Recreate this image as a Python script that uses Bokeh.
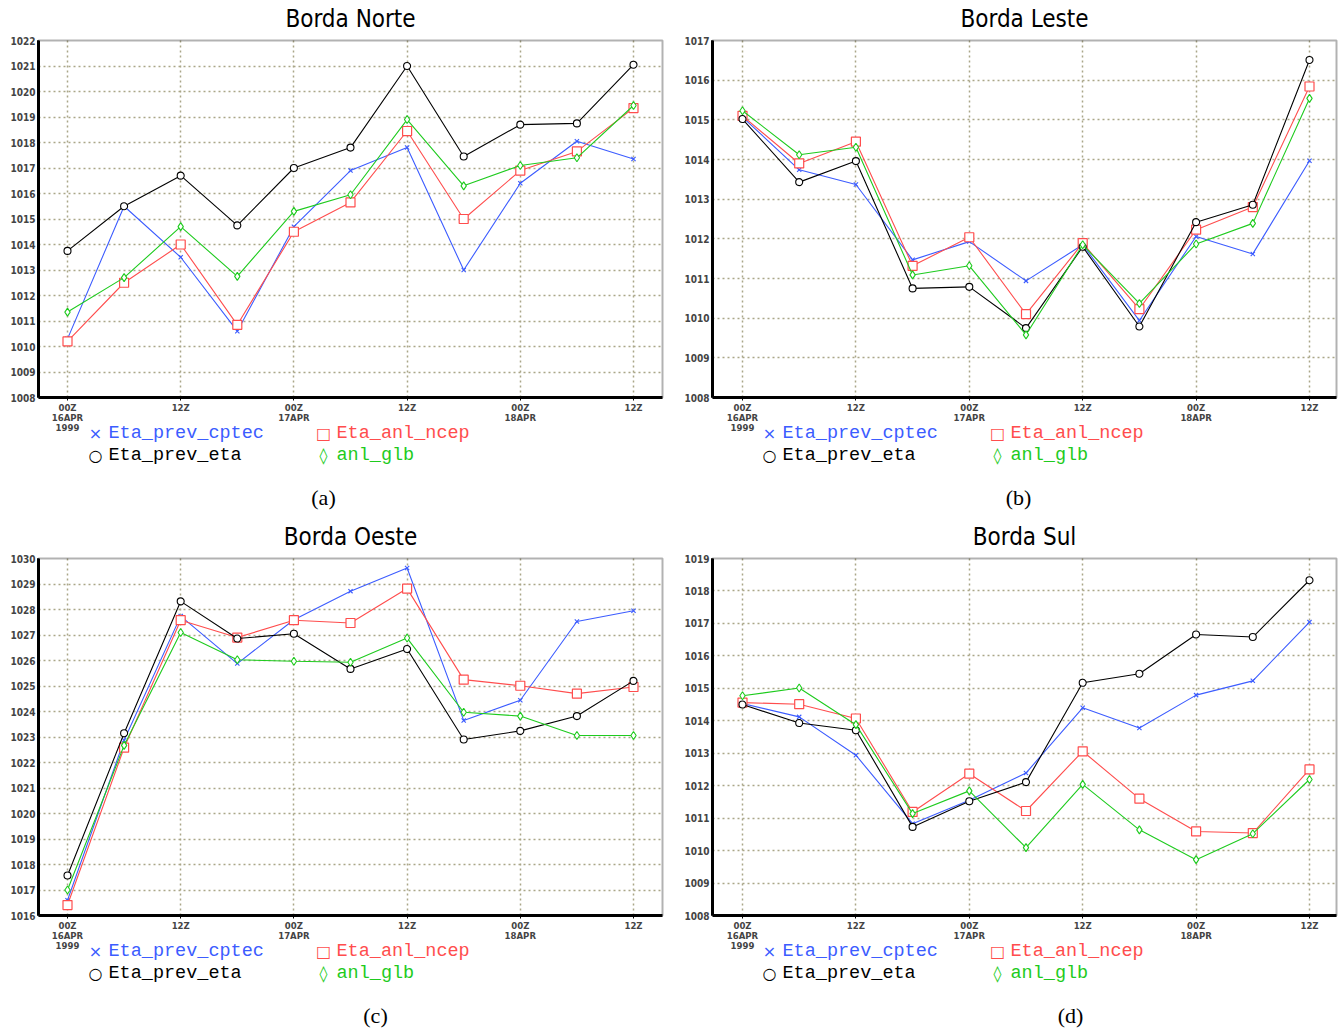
from bokeh.plotting import figure
from bokeh.models import Label, FixedTicker, Range1d, BoxAnnotation
from bokeh.layouts import column, row
from bokeh.embed import file_html
from bokeh.resources import INLINE

# ---------------- data ----------------
times = ["00Z16APR1999", "06Z16APR1999", "12Z16APR1999", "18Z16APR1999",
         "00Z17APR1999", "06Z17APR1999", "12Z17APR1999", "18Z17APR1999",
         "00Z18APR1999", "06Z18APR1999", "12Z18APR1999"]
tick_labels = {0: "00Z\n16APR\n1999", 2: "12Z", 4: "00Z\n17APR", 6: "12Z",
               8: "00Z\n18APR", 10: "12Z"}
series_names = ["Eta_prev_cptec", "Eta_anl_ncep", "Eta_prev_eta", "anl_glb"]

norte_cptec = [1010.3, 1015.5, 1013.5, 1010.6, 1014.7, 1016.9, 1017.8, 1013.0, 1016.4, 1018.05, 1017.35]
norte_ncep = [1010.2, 1012.5, 1014.0, 1010.85, 1014.5, 1015.65, 1018.45, 1015.0, 1016.9, 1017.65, 1019.35]
norte_eta = [1013.75, 1015.5, 1016.7, 1014.75, 1017.0, 1017.8, 1021.0, 1017.45, 1018.7, 1018.75, 1021.05]
norte_glb = [1011.35, 1012.7, 1014.7, 1012.75, 1015.3, 1015.95, 1018.9, 1016.3, 1017.1, 1017.4, 1019.45]

leste_cptec = [1015.07, 1013.74, 1013.37, 1011.47, 1011.93, 1010.94, 1011.85, 1009.94, 1012.06, 1011.62, 1013.97]
leste_ncep = [1015.1, 1013.9, 1014.45, 1011.32, 1012.04, 1010.1, 1011.89, 1010.23, 1012.23, 1012.8, 1015.84]
leste_eta = [1015.02, 1013.43, 1013.96, 1010.75, 1010.79, 1009.75, 1011.8, 1009.79, 1012.42, 1012.86, 1016.51]
leste_glb = [1015.23, 1014.12, 1014.31, 1011.09, 1011.32, 1009.58, 1011.85, 1010.37, 1011.87, 1012.39, 1015.54]

oeste_cptec = [1016.6, 1022.87, 1027.74, 1025.88, 1027.6, 1028.72, 1029.63, 1023.65, 1024.44, 1027.53, 1027.95]
oeste_ncep = [1016.41, 1022.58, 1027.58, 1026.9, 1027.58, 1027.47, 1028.82, 1025.25, 1025.01, 1024.7, 1024.96]
oeste_eta = [1017.57, 1023.15, 1028.32, 1026.86, 1027.05, 1025.67, 1026.45, 1022.9, 1023.24, 1023.82, 1025.2]
oeste_glb = [1017.0, 1022.67, 1027.1, 1026.03, 1025.97, 1025.93, 1026.88, 1023.97, 1023.82, 1023.06, 1023.06]

sul_cptec = [1014.53, 1014.12, 1012.94, 1010.83, 1011.55, 1012.39, 1014.4, 1013.78, 1014.79, 1015.23, 1017.04]
sul_ncep = [1014.56, 1014.51, 1014.07, 1011.19, 1012.37, 1011.22, 1013.06, 1011.6, 1010.59, 1010.54, 1012.5]
sul_eta = [1014.5, 1013.93, 1013.71, 1010.73, 1011.52, 1012.11, 1015.17, 1015.45, 1016.66, 1016.58, 1018.33]
sul_glb = [1014.77, 1015.01, 1013.88, 1011.14, 1011.84, 1010.09, 1012.04, 1010.64, 1009.72, 1010.52, 1012.19]

# ---------------- style ----------------
C_CPTEC = "#3c5cff"
C_NCEP = "#ff4d4d"
C_ETA = "#000000"
C_GLB = "#1ecb1e"
GRID = "#aaa688"
TICK_FONT = "DejaVu Sans Condensed"
LEG_FONT = "Liberation Mono"
SYM_FONT = "DejaVu Sans"
TITLE_FONT = "DejaVu Sans Condensed"


def panel(title, caption, cap_x, cptec, ncep, eta, glb, ylo, yhi,
          fig_w, fig_h, L, R, T, B, x0px, x10px):
    n = len(times) - 1
    sx = (x10px - x0px) / n              # px per step
    sy = (B - T) / (yhi - ylo)           # px per hPa
    xs_start = 0 - x0px / sx
    xs_end = n + (fig_w - x10px) / sx
    ys_start = ylo - (fig_h - B) / sy
    ys_end = yhi + T / sy
    bx0 = (L - x0px) / sx
    bx1 = n + (R - x10px) / sx

    def dx(px):
        return xs_start + px / sx

    def dy(py):
        return ys_end - py / sy

    p = figure(width=fig_w, height=fig_h,
               x_range=Range1d(xs_start, xs_end), y_range=Range1d(ys_start, ys_end),
               output_backend="svg", toolbar_location=None,
               min_border_left=0, min_border_right=0,
               min_border_top=0, min_border_bottom=0)
    p.background_fill_color = "white"
    p.border_fill_color = "white"
    p.outline_line_color = None

    # axes fixed on the plot box edges
    xt = sorted(tick_labels.keys())
    p.xaxis.fixed_location = ylo
    p.xaxis.bounds = (bx0, bx1)
    p.xaxis.ticker = FixedTicker(ticks=xt)
    p.xaxis.major_label_overrides = tick_labels
    p.xaxis.minor_tick_line_color = None
    p.xaxis.major_tick_in = 0
    p.xaxis.major_tick_out = 3
    p.xaxis.major_label_standoff = 1
    p.xaxis.major_label_text_font = TICK_FONT
    p.xaxis.major_label_text_font_style = "bold"
    p.xaxis.major_label_text_font_size = "9.5px"
    p.xaxis.major_label_text_line_height = 0.95
    p.xaxis.axis_line_width = 3

    p.yaxis.fixed_location = bx0
    p.yaxis.bounds = (ylo, yhi)
    p.yaxis.ticker = FixedTicker(ticks=list(range(ylo, yhi + 1)))
    p.yaxis.minor_tick_line_color = None
    p.yaxis.major_tick_in = 0
    p.yaxis.major_tick_out = 1
    p.yaxis.major_label_standoff = 2
    p.yaxis.major_label_text_font = TICK_FONT
    p.yaxis.major_label_text_font_style = "bold"
    p.yaxis.major_label_text_font_size = "10px"
    p.yaxis.axis_line_width = 3

    p.xgrid.ticker = FixedTicker(ticks=xt)
    p.ygrid.ticker = FixedTicker(ticks=list(range(ylo + 1, yhi)))
    p.xgrid.cross_bounds = (ylo, yhi)
    p.ygrid.cross_bounds = (bx0, bx1)
    for g in (p.xgrid, p.ygrid):
        g.grid_line_color = GRID
        g.grid_line_dash = "2 3"
        g.grid_line_width = 1.5

    # plot box border
    p.add_layout(BoxAnnotation(left=bx0, right=bx1, bottom=ylo, top=yhi,
                               fill_color=None, line_color="black", line_width=2,
                               level="underlay"))

    xs = list(range(len(times)))
    p.line(xs, cptec, line_color=C_CPTEC, line_width=1.1)
    p.scatter(xs, cptec, marker="x", size=6, line_color=C_CPTEC, line_width=1.1)
    p.line(xs, ncep, line_color=C_NCEP, line_width=1.1)
    p.scatter(xs, ncep, marker="square", size=9, line_color=C_NCEP, fill_color="white", line_width=1.2)
    p.line(xs, eta, line_color=C_ETA, line_width=1.1)
    p.scatter(xs, eta, marker="circle", size=7, line_color=C_ETA, fill_color="white", line_width=1.1)
    p.line(xs, glb, line_color=C_GLB, line_width=1.1)
    p.scatter(xs, glb, marker="diamond", size=8, line_color=C_GLB, fill_color="white", line_width=1.1)

    # title
    p.add_layout(Label(x=dx((L + R) / 2), y=dy(18), text=title,
                       text_align="center", text_baseline="middle",
                       text_font=TITLE_FONT,
                       text_font_size="24px", text_color="black"))
    # legend
    items = [
        ("\u00d7", series_names[0], C_CPTEC, 95, 433),
        ("\u25a1", series_names[1], C_NCEP, 323, 433),
        ("\u25cb", series_names[2], C_ETA, 95, 455),
        ("\u25ca", series_names[3], C_GLB, 323, 455),
    ]
    for sym, name, col, mx, my in items:
        p.add_layout(Label(x=dx(mx), y=dy(my), text=sym,
                           text_align="center", text_baseline="middle",
                           text_font=SYM_FONT, text_font_size="16px",
                           text_color=col))
        p.add_layout(Label(x=dx(mx + 13), y=dy(my), text=name,
                           text_align="left", text_baseline="middle",
                           text_font=LEG_FONT, text_font_size="18.5px",
                           text_color=col))
    # caption
    p.add_layout(Label(x=dx(cap_x), y=dy(497), text=caption,
                       text_align="center", text_baseline="middle",
                       text_font="Liberation Serif", text_font_size="22px",
                       text_color="black"))
    return p


LW, RW = 674, 666
TH, BH = 518, 511

pa = panel("Borda Norte", "(a)", 323, norte_cptec, norte_ncep, norte_eta, norte_glb,
           1008, 1022, LW, TH, 38, 662, 40, 397, 67, 633)
pb = panel("Borda Leste", "(b)", 344, leste_cptec, leste_ncep, leste_eta, leste_glb,
           1008, 1017, RW, TH, 38, 662, 40, 397, 68, 635)
pc = panel("Borda Oeste", "(c)", 375, oeste_cptec, oeste_ncep, oeste_eta, oeste_glb,
           1016, 1030, LW, BH, 38, 662, 40, 397, 67, 633)
pd = panel("Borda Sul", "(d)", 396, sul_cptec, sul_ncep, sul_eta, sul_glb,
           1008, 1019, RW, BH, 38, 662, 40, 397, 68, 635)

layout = column(row(pa, pb), row(pc, pd))
open("out.html", "w").write(file_html(layout, INLINE))
